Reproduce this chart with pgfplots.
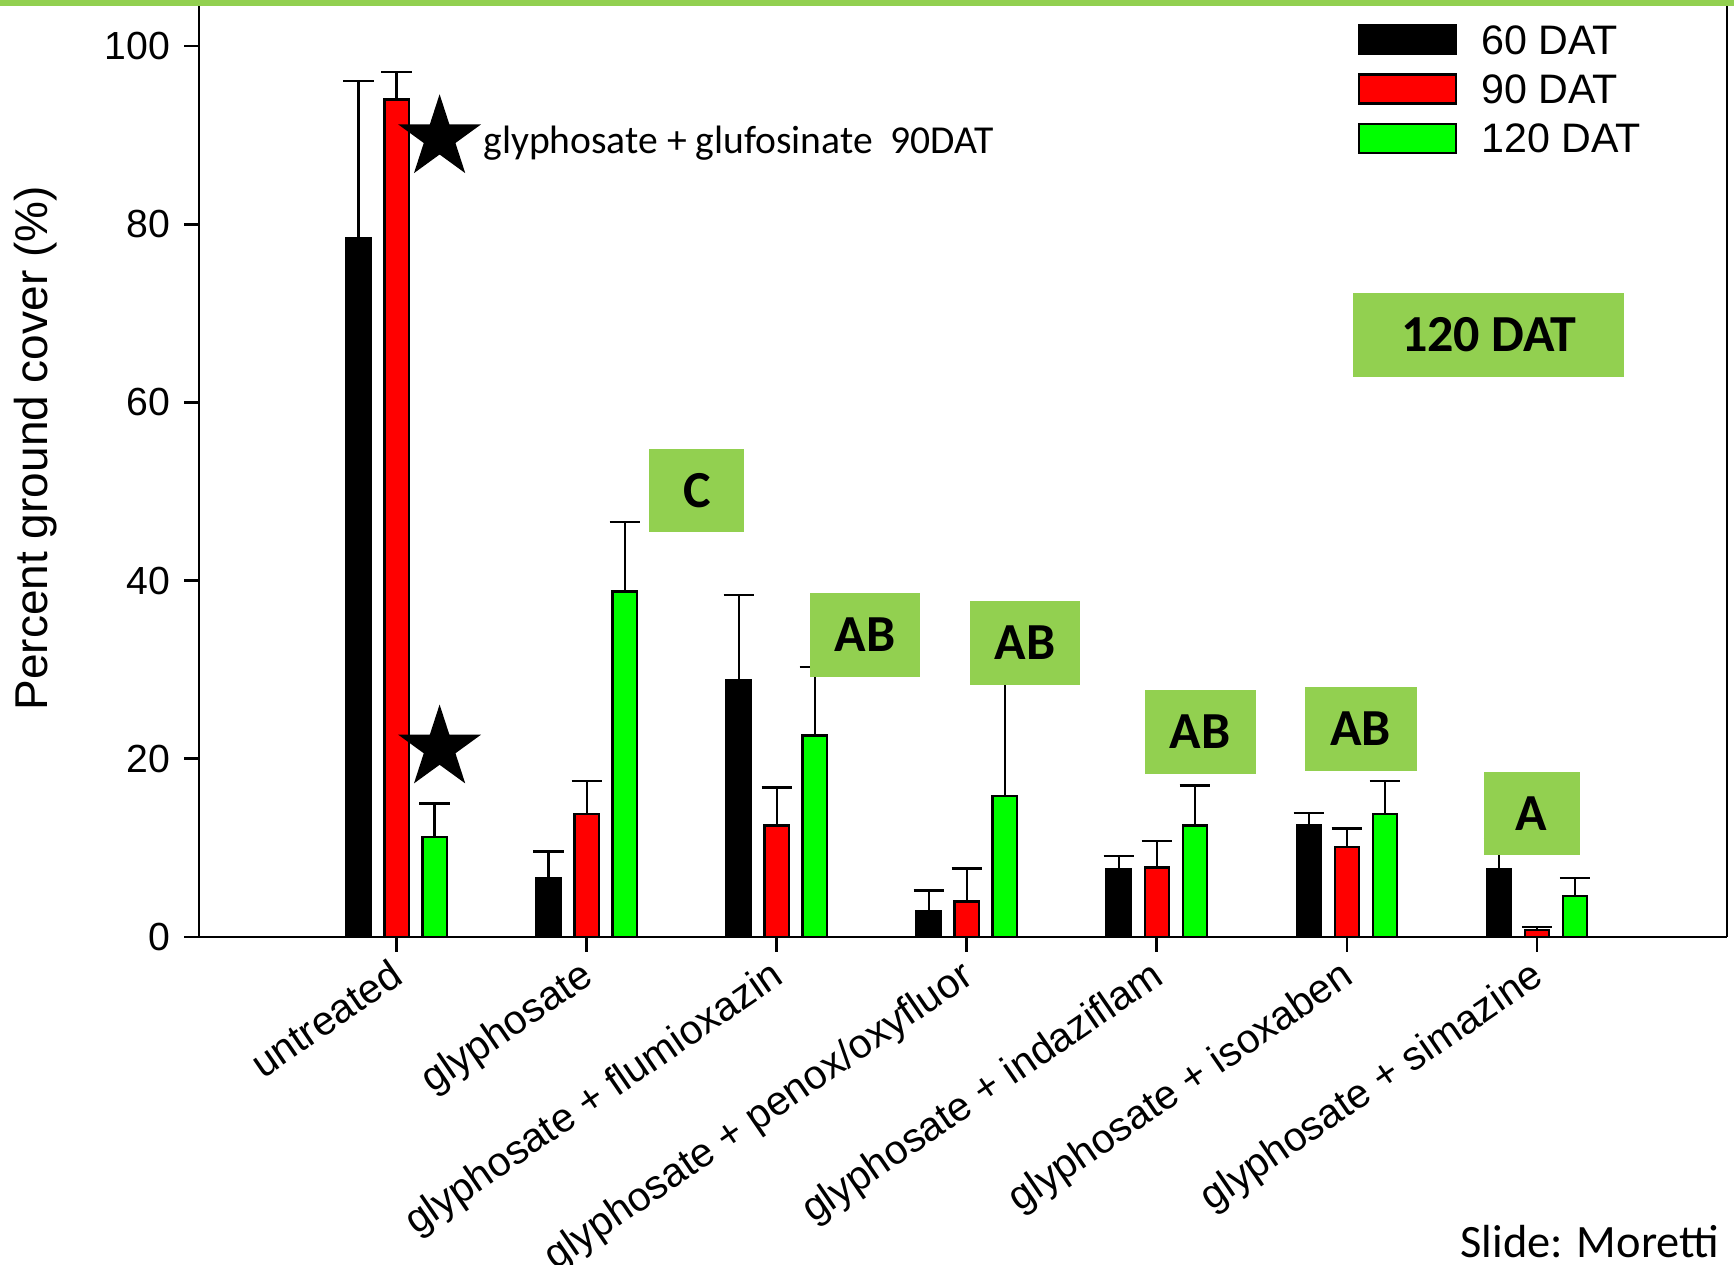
\documentclass[border=0pt]{standalone}
\usepackage{fontspec}
\setmainfont{Liberation Sans}
\newfontfamily\carlito{Carlito}
\usepackage{pgfplots}
\pgfplotsset{compat=1.18}
\definecolor{lgreen}{HTML}{92D050}
\definecolor{bgreen}{HTML}{00FF00}
\definecolor{bred}{HTML}{FF0000}
\pgfdeclareplotmark{fstar}{%
  \pgfpathmoveto{\pgfpointpolar{90}{\pgfplotmarksize}}%
  \pgfpathlineto{\pgfpointpolar{126}{0.382\pgfplotmarksize}}%
  \pgfpathlineto{\pgfpointpolar{162}{\pgfplotmarksize}}%
  \pgfpathlineto{\pgfpointpolar{198}{0.382\pgfplotmarksize}}%
  \pgfpathlineto{\pgfpointpolar{234}{\pgfplotmarksize}}%
  \pgfpathlineto{\pgfpointpolar{270}{0.382\pgfplotmarksize}}%
  \pgfpathlineto{\pgfpointpolar{306}{\pgfplotmarksize}}%
  \pgfpathlineto{\pgfpointpolar{342}{0.382\pgfplotmarksize}}%
  \pgfpathlineto{\pgfpointpolar{18}{\pgfplotmarksize}}%
  \pgfpathlineto{\pgfpointpolar{54}{0.382\pgfplotmarksize}}%
  \pgfpathclose
  \pgfusepathqfill}
\pgfplotsset{
  mybar/.style={ybar, bar width=0.128, bar shift=0pt, draw=black, line width=0.6pt,
    error bars/y dir=plus, error bars/y explicit,
    error bars/error bar style={line width=0.6pt, black},
    error bars/error mark options={rotate=90, mark size=3.8pt, line width=0.6pt, black},
    legend image code/.code={\draw[##1] (0pt,-3.6pt) rectangle (24.25pt,3.6pt);}}
}
\tikzset{lbox/.style={fill=lgreen, inner sep=0pt, minimum height=21pt, font=\carlito\bfseries\fontsize{13}{13}\selectfont}}
\pgfplotstableread{
x y e
-0.2 78.4 17.7
0.8 6.6 3.0
1.8 28.8 9.6
2.8 2.9 2.3
3.8 7.6 1.5
4.8 12.5 1.4
5.8 7.6 3.4
}\datasixty
\pgfplotstableread{
x y e
0 94.0 3.1
1 13.8 3.7
2 12.5 4.3
3 4.0 3.7
4 7.8 3.0
5 10.1 2.1
6 0.8 0.3
}\dataninety
\pgfplotstableread{
x y e
0.2 11.2 3.8
1.2 38.8 7.8
2.2 22.6 7.7
3.2 15.8 14.2
4.2 12.5 4.5
5.2 13.8 3.7
6.2 4.6 2.0
}\dataonetwenty
\begin{document}
\begin{tikzpicture}
\path[use as bounding box] (-49.75pt,-81.75pt) rectangle (383.75pt,234.25pt);
\begin{axis}[
  at={(0pt,0pt)}, anchor=south west, scale only axis,
  width=382pt, height=232.75pt,
  xmin=-1.04, xmax=7, ymin=0, ymax=104.5,
  clip=false,
  axis x line*=bottom,
  ytick pos=left,
  ytick={0,20,40,60,80,100},
  xtick={0,1,2,3,4,5,6},
  xticklabels={untreated, glyphosate, glyphosate + flumioxazin, glyphosate + penox/oxyfluor, glyphosate + indaziflam, glyphosate + isoxaben, glyphosate + simazine},
  tick align=outside, major tick length=3.7pt,
  tick style={black, line width=0.7pt},
  axis line style={line width=0.7pt},
  /pgf/number format/assume math mode=true,
  yticklabel style={font=\fontsize{9.8}{11}\selectfont},
  xticklabel style={font=\fontsize{10.2}{12}\selectfont, rotate=34.5, anchor=north east, inner sep=1pt, xshift=-1.3pt, yshift=1.2pt},
  ylabel={Percent ground cover (\%)},
  every axis y label/.style={at={(axis description cs:-0.107,0.525)}, rotate=90, anchor=center, font=\fontsize{11.5}{13}\selectfont},
  legend style={at={(0.758,0.9815)}, anchor=north west, draw=none, fill=none, inner sep=0pt,
    nodes={inner sep=0pt, text depth=0pt}, row sep=4.55pt, column sep=6pt,
    font=\fontsize{10.3}{12}\selectfont},
  legend cell align=left,
]
\addplot[mybar, fill=black] table[x=x, y=y, y error=e] {\datasixty};
\addlegendentry{60 DAT}
\addplot[mybar, fill=bred] table[x=x, y=y, y error=e] {\dataninety};
\addlegendentry{90 DAT}
\addplot[mybar, fill=bgreen] table[x=x, y=y, y error=e] {\dataonetwenty};
\addlegendentry{120 DAT}
\addplot[only marks, mark=fstar, mark size=10.9pt, black, forget plot] coordinates {(0.226,89.7) (0.226,21.2)};
\node[anchor=base west, inner sep=0pt, font=\carlito\fontsize{9.9}{11}\selectfont] at (axis cs:0.452,87.9) {glyphosate + glufosinate~~90DAT};
\node[lbox, minimum width=67.75pt] at (axis cs:5.747,67.6) {120 DAT};
\node[lbox, minimum width=23.75pt, minimum height=20.75pt] at (axis cs:1.580,50.1) {C};
\node[lbox, minimum width=27.6pt] at (axis cs:2.465,33.9) {AB};
\node[lbox, minimum width=27.5pt] at (axis cs:3.307,33.05) {AB};
\node[lbox, minimum width=27.75pt] at (axis cs:4.227,23.0) {AB};
\node[lbox, minimum width=27.9pt] at (axis cs:5.073,23.4) {AB};
\node[lbox, minimum width=24pt, minimum height=20.75pt] at (axis cs:5.972,13.86) {A};
\end{axis}
\fill[lgreen] (-49.75pt,232.75pt) rectangle (383.75pt,234.25pt);
\node[anchor=base east, inner sep=0pt, font=\carlito\fontsize{11.6}{13}\selectfont] at (380.25pt,-80pt) {Slide: Moretti};
\end{tikzpicture}
\end{document}
